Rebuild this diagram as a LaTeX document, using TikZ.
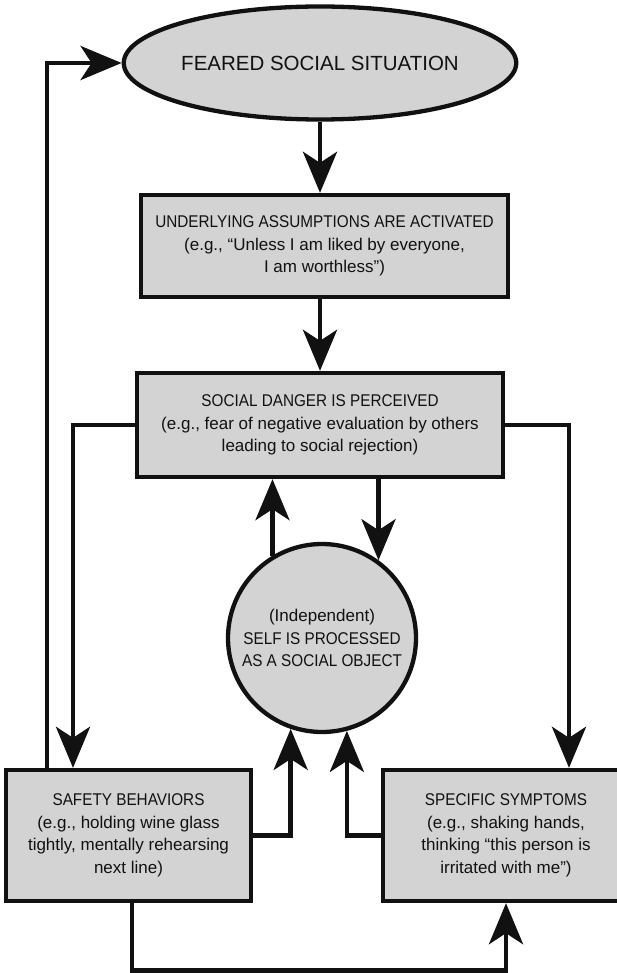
\documentclass[tikz,border=0pt]{standalone}
\usepackage{fontspec}
\setmainfont{Liberation Sans}
\newfontfamily\capsfont{Liberation Sans}[FakeStretch=0.9]
\newcommand{\hd}[1]{{\capsfont #1}}
\usetikzlibrary{arrows.meta,shapes.geometric}
\definecolor{boxgray}{HTML}{D3D3D3}
\definecolor{ink}{HTML}{111111}
\begin{document}
\begin{tikzpicture}[x=1pt,y=-1pt,
  base/.style={draw=ink,line width=4.3pt,fill=boxgray,text=ink,align=center,
    inner sep=0pt,font=\fontsize{17}{22.5}\selectfont},
  stepbox/.style={base,rectangle},
  oval/.style={base,ellipse},
  roundnode/.style={base,circle},
  flow/.style={draw=ink,line width=4.7pt,
    -{Stealth[length=41pt,width=34pt,inset=11pt]}}
]
\useasboundingbox (0,0) rectangle (617,973);

% nodes
\node[oval,minimum width=365pt,minimum height=113pt,
      font=\fontsize{20.5}{24}\selectfont] (feared) at (320,63)
  {FEARED SOCIAL SITUATION};
\node[stepbox,minimum width=367pt,minimum height=102pt] (assume) at (324.5,246)
  {\hd{UNDERLYING ASSUMPTIONS ARE ACTIVATED}\\(e.g., “Unless I am liked by everyone,\\I am worthless”)};
\node[stepbox,minimum width=366pt,minimum height=104pt] (danger) at (320,425)
  {\hd{SOCIAL DANGER IS PERCEIVED}\\(e.g., fear of negative evaluation by others\\leading to social rejection)};
\node[roundnode,minimum size=188pt] (self) at (322,638)
  {(Independent)\\\hd{SELF IS PROCESSED}\\\hd{AS A SOCIAL OBJECT}};
\node[stepbox,minimum width=245pt,minimum height=131pt] (safety) at (128.5,835.5)
  {\hd{SAFETY BEHAVIORS}\\(e.g., holding wine glass\\tightly, mentally rehearsing\\next line)};
\node[stepbox,minimum width=246pt,minimum height=131pt] (sympt) at (506,835.5)
  {\hd{SPECIFIC SYMPTOMS}\\(e.g., shaking hands,\\thinking “this person is\\irritated with me”)};

% connectors
\draw[flow] (feared.south) -- (feared.south |- assume.north);
\draw[flow] (assume.south -| danger.north) -- (danger.north);
\draw[flow] (danger.west) -| ([xshift=-55.5pt]safety.north);
\draw[flow] (danger.east) -| ([xshift=63pt]sympt.north);
\draw[flow] (self.121) -- (self.121 |- danger.south);
\draw[flow] (self.54 |- danger.south) -- (self.54);
\draw[flow] (safety.east) -| (self.251);
\draw[flow] (sympt.west) -| (self.285);
\draw[flow] ([xshift=-81.5pt]safety.north) |- (feared.west);
\coordinate (floor) at (0,970.5);
\draw[flow] ([xshift=3.5pt]safety.south) -- ([xshift=3.5pt]safety.south |- floor)
  -| (sympt.south);
\end{tikzpicture}
\end{document}
